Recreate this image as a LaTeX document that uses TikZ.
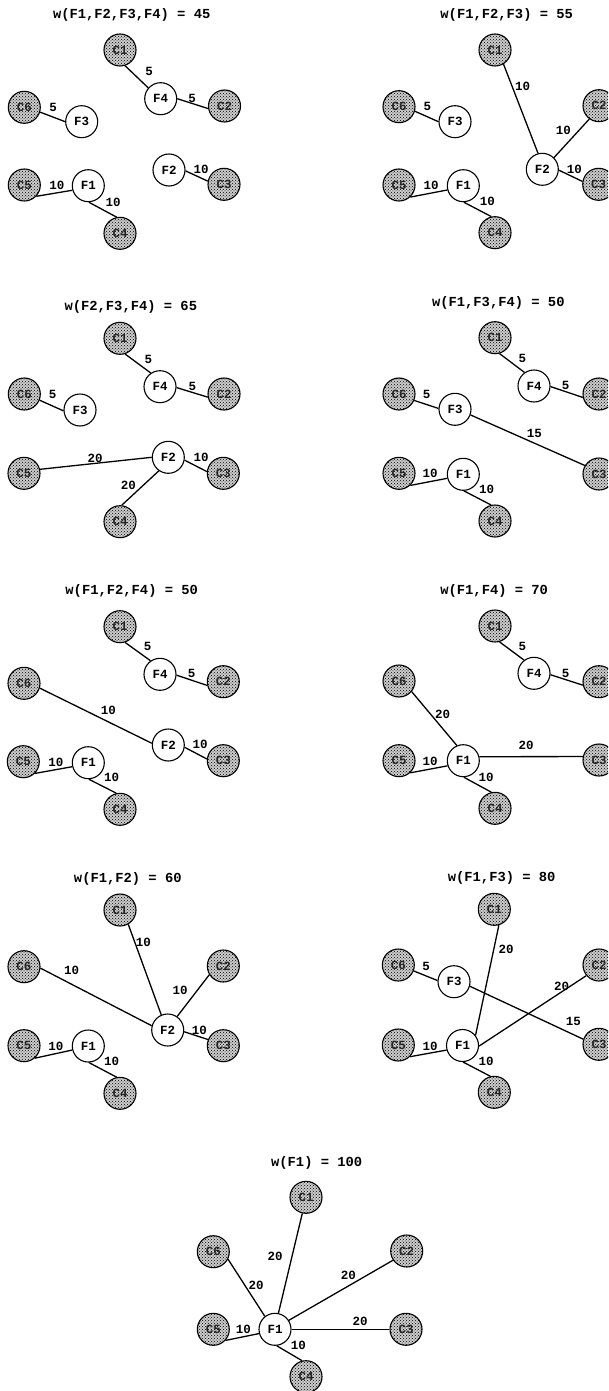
\documentclass[tikz,border=0pt]{standalone}
\usepackage{fontspec}
\setmonofont{Liberation Mono}
\usetikzlibrary{patterns}
\newcommand{\ttl}{\ttfamily\bfseries\fontsize{13.8}{16}\selectfont}
\newcommand{\lblf}{\ttfamily\bfseries\fontsize{12.5}{14}\selectfont}
\tikzset{
  fnode/.style={circle, draw, line width=1.1pt, fill=white, minimum size=32pt, inner sep=0pt, font=\lblf},
  cnode/.style={circle, draw, line width=1.1pt, minimum size=32pt, inner sep=0pt,
    preaction={fill=gray!40}, pattern=crosshatch dots, pattern color=black, font=\lblf, text=black!85},
  edge/.style={line width=1.3pt},
  wlbl/.style={font=\lblf, inner sep=0pt},
  ptitle/.style={font=\ttl, inner sep=0pt}
}
\begin{document}
\begin{tikzpicture}[x=1pt,y=-1pt]
\clip (0,0) rectangle (608,1391);
\fill[white] (0,0) rectangle (608,1391);
% ---------------- panel a
\node[ptitle] (aT) at (131.7,15) {w(F1,F2,F3,F4) = 45};
\node[cnode] (aC1) at (120,50) {C1};
\node[fnode] (aF4) at (160.7,98.7) {F4};
\node[cnode] (aC2) at (224.5,106) {C2};
\node[cnode] (aC6) at (24.3,107.3) {C6};
\node[fnode] (aF3) at (81.7,121.7) {F3};
\node[fnode] (aF2) at (169,170) {F2};
\node[cnode] (aC3) at (224,184.3) {C3};
\node[cnode] (aC5) at (24.3,185) {C5};
\node[fnode] (aF1) at (88.3,185.7) {F1};
\node[cnode] (aC4) at (120,233.3) {C4};
\draw[edge] (aC1.-72) -- (aF4.139);
\draw[edge] (aF4.0) -- (aC2.189);
\draw[edge] (aC6.-17) -- (aF3.180);
\draw[edge] (aF2.-3) -- (aC3.169);
\draw[edge] (aC5.-43) -- (aF1.196);
\draw[edge] (aF1.-88) -- (aC4.102);
\node[wlbl] (aL1) at (149,71) {5};
\node[wlbl] (aL2) at (192,98) {5};
\node[wlbl] (aL3) at (53,107) {5};
\node[wlbl] (aL4) at (201,169) {10};
\node[wlbl] (aL5) at (57,185) {10};
\node[wlbl] (aL6) at (113,202) {10};
% ---------------- panel b
\node[ptitle] (bT) at (506.7,15) {w(F1,F2,F3) = 55};
\node[cnode] (bC1) at (495,50) {C1};
\node[cnode] (bC6) at (399,106.7) {C6};
\node[fnode] (bF3) at (455,121.7) {F3};
\node[cnode] (bC2) at (599,105.7) {C2};
\node[fnode] (bF2) at (542.3,169.3) {F2};
\node[cnode] (bC3) at (598.7,184.3) {C3};
\node[cnode] (bC5) at (399,185) {C5};
\node[fnode] (bF1) at (463.3,185.7) {F1};
\node[cnode] (bC4) at (495,232.7) {C4};
\draw[edge] (bC1.-59) -- (bF2.105);
\draw[edge] (bF2.45) -- (bC2.234);
\draw[edge] (bF2.-3) -- (bC3.170);
\draw[edge] (bC6.-16) -- (bF3.180);
\draw[edge] (bC5.-47) -- (bF1.195);
\draw[edge] (bF1.-88) -- (bC4.103);
\node[wlbl] (bL1) at (522.7,86) {10};
\node[wlbl] (bL2) at (563.3,130) {10};
\node[wlbl] (bL3) at (574.3,169.3) {10};
\node[wlbl] (bL4) at (427.3,106) {5};
\node[wlbl] (bL5) at (431,185) {10};
\node[wlbl] (bL6) at (487.3,201) {10};
% ---------------- panel c
\node[ptitle] (cT) at (130.8,306.7) {w(F2,F3,F4) = 65};
\node[cnode] (cC1) at (120,338.3) {C1};
\node[fnode] (cF4) at (160,386.7) {F4};
\node[cnode] (cC2) at (224,394) {C2};
\node[cnode] (cC6) at (24.3,394) {C6};
\node[fnode] (cF3) at (80,410) {F3};
\node[fnode] (cF2) at (168.3,457.3) {F2};
\node[cnode] (cC3) at (223.3,473.3) {C3};
\node[cnode] (cC5) at (24,473.3) {C5};
\node[cnode] (cC4) at (120,521.7) {C4};
\draw[edge] (cC1.-72) -- (cF4.124);
\draw[edge] (cF4.-3) -- (cC2.191);
\draw[edge] (cC6.-22) -- (cF3.183);
\draw[edge] (cC5.14) -- (cF2.180);
\draw[edge] (cF2.-10) -- (cC3.174);
\draw[edge] (cF2.235) -- (cC4.84);
\node[wlbl] (cL1) at (148.3,359) {5};
\node[wlbl] (cL2) at (192.3,386) {5};
\node[wlbl] (cL3) at (52.7,394) {5};
\node[wlbl] (cL4) at (95,458.3) {20};
\node[wlbl] (cL5) at (201,457.3) {10};
\node[wlbl] (cL6) at (128.3,485) {20};
% ---------------- panel d
\node[ptitle] (dT) at (498.3,303.3) {w(F1,F3,F4) = 50};
\node[cnode] (dC1) at (495,337.7) {C1};
\node[fnode] (dF4) at (534,386) {F4};
\node[cnode] (dC2) at (599,394) {C2};
\node[cnode] (dC6) at (399,394) {C6};
\node[fnode] (dF3) at (455,409.3) {F3};
\node[cnode] (dC3) at (599,474) {C3};
\node[cnode] (dC5) at (399,473.3) {C5};
\node[fnode] (dF1) at (463.3,474.3) {F1};
\node[cnode] (dC4) at (495,521) {C4};
\draw[edge] (dC1.-74) -- (dF4.125);
\draw[edge] (dF4.-2) -- (dC2.192);
\draw[edge] (dC6.-23) -- (dF3.177);
\draw[edge] (dF3.-20) -- (dC3.149);
\draw[edge] (dC5.-47) -- (dF1.194);
\draw[edge] (dF1.-88) -- (dC4.104);
\node[wlbl] (dL1) at (522.3,358.3) {5};
\node[wlbl] (dL2) at (565.7,385) {5};
\node[wlbl] (dL3) at (426.7,394) {5};
\node[wlbl] (dL4) at (534.3,433.3) {15};
\node[wlbl] (dL5) at (430,473.3) {10};
\node[wlbl] (dL6) at (486.7,489.3) {10};
% ---------------- panel e
\node[ptitle] (eT) at (131.7,590.7) {w(F1,F2,F4) = 50};
\node[cnode] (eC1) at (120,626.7) {C1};
\node[fnode] (eF4) at (160,674.3) {F4};
\node[cnode] (eC2) at (223.3,681.7) {C2};
\node[cnode] (eC6) at (24,683.3) {C6};
\node[fnode] (eF2) at (168.3,745) {F2};
\node[cnode] (eC3) at (223.3,760.7) {C3};
\node[cnode] (eC5) at (23.3,761.7) {C5};
\node[fnode] (eF1) at (88.3,762.7) {F1};
\node[cnode] (eC4) at (120,809.3) {C4};
\draw[edge] (eC1.-72) -- (eF4.125);
\draw[edge] (eF4.-3) -- (eC2.193);
\draw[edge] (eC6.-17) -- (eF2.174);
\draw[edge] (eF2.-8) -- (eC3.174);
\draw[edge] (eC5.-45) -- (eF1.194);
\draw[edge] (eF1.-88) -- (eC4.103);
\node[wlbl] (eL1) at (147.7,646) {5};
\node[wlbl] (eL2) at (191.7,673.3) {5};
\node[wlbl] (eL3) at (108.3,710) {10};
\node[wlbl] (eL4) at (200,744.3) {10};
\node[wlbl] (eL5) at (56,762.7) {10};
\node[wlbl] (eL6) at (111.7,777.7) {10};
% ---------------- panel f
\node[ptitle] (fT) at (494.2,590.7) {w(F1,F4) = 70};
\node[cnode] (fC1) at (495,626) {C1};
\node[fnode] (fF4) at (534,673.3) {F4};
\node[cnode] (fC2) at (599,681.7) {C2};
\node[cnode] (fC6) at (399,681) {C6};
\node[fnode] (fF1) at (463.3,760.7) {F1};
\node[cnode] (fC5) at (399,760.7) {C5};
\node[cnode] (fC3) at (599,760) {C3};
\node[cnode] (fC4) at (495,808.3) {C4};
\draw[edge] (fC1.-74) -- (fF4.127);
\draw[edge] (fF4.-5) -- (fC2.192);
\draw[edge] (fC6.-40) -- (fF1.113);
\draw[edge] (fF1.14) -- (fC3.168);
\draw[edge] (fC5.-47) -- (fF1.198);
\draw[edge] (fF1.-88) -- (fC4.103);
\node[wlbl] (fL1) at (522.3,646) {5};
\node[wlbl] (fL2) at (565.7,673.3) {5};
\node[wlbl] (fL3) at (442.7,714) {20};
\node[wlbl] (fL4) at (526,745) {20};
\node[wlbl] (fL5) at (430,761.7) {10};
\node[wlbl] (fL6) at (486,777.3) {10};
% ---------------- panel g
\node[ptitle] (gT) at (127.8,879) {w(F1,F2) = 60};
\node[cnode] (gC1) at (120,910) {C1};
\node[cnode] (gC6) at (24,966.7) {C6};
\node[cnode] (gC2) at (223.3,966) {C2};
\node[fnode] (gF2) at (167.7,1030) {F2};
\node[cnode] (gC3) at (223.3,1045.7) {C3};
\node[cnode] (gC5) at (24,1045.7) {C5};
\node[fnode] (gF1) at (88.3,1046) {F1};
\node[cnode] (gC4) at (120,1093.3) {C4};
\draw[edge] (gC1.-60) -- (gF2.113);
\draw[edge] (gC6.-5) -- (gF2.165);
\draw[edge] (gF2.55) -- (gC2.212);
\draw[edge] (gF2.-6) -- (gC3.158);
\draw[edge] (gC5.-49) -- (gF1.194);
\draw[edge] (gF1.-88) -- (gC4.102);
\node[wlbl] (gL1) at (143.3,942.7) {10};
\node[wlbl] (gL2) at (71.7,970) {10};
\node[wlbl] (gL3) at (180,990.7) {10};
\node[wlbl] (gL4) at (199.3,1030) {10};
\node[wlbl] (gL5) at (56,1046) {10};
\node[wlbl] (gL6) at (111.7,1061.7) {10};
% ---------------- panel h
\node[ptitle] (hT) at (501.7,878.3) {w(F1,F3) = 80};
\node[cnode] (hC1) at (494.3,909.3) {C1};
\node[cnode] (hC6) at (398.3,965) {C6};
\node[fnode] (hF3) at (454,981.7) {F3};
\node[cnode] (hC2) at (599,965) {C2};
\node[fnode] (hF1) at (462.5,1045.5) {F1};
\node[cnode] (hC5) at (398.3,1045) {C5};
\node[cnode] (hC3) at (599,1044.3) {C3};
\node[cnode] (hC4) at (494.3,1092.3) {C4};
\draw[edge] (hC1.-74) -- (hF1.38);
\draw[edge] (hC6.-21) -- (hF3.176);
\draw[edge] (hF3.-16) -- (hC3.162);
\draw[edge] (hF1.-2) -- (hC2.220);
\draw[edge] (hC5.-45) -- (hF1.196);
\draw[edge] (hF1.-88) -- (hC4.104);
\node[wlbl] (hL1) at (506,949.3) {20};
\node[wlbl] (hL2) at (426,966) {5};
\node[wlbl] (hL3) at (561.7,986) {20};
\node[wlbl] (hL4) at (573.3,1021.7) {15};
\node[wlbl] (hL5) at (430,1046) {10};
\node[wlbl] (hL6) at (486,1061.7) {10};
% ---------------- panel i
\node[ptitle] (iT) at (316.7,1163.3) {w(F1) = 100};
\node[cnode] (iC1) at (306,1197.3) {C1};
\node[cnode] (iC6) at (213.3,1251.7) {C6};
\node[cnode] (iC2) at (406.7,1251) {C2};
\node[cnode] (iC5) at (213.3,1329.3) {C5};
\node[fnode] (iF1) at (275,1329.3) {F1};
\node[cnode] (iC3) at (406,1329.3) {C3};
\node[cnode] (iC4) at (306,1376.7) {C4};
\draw[edge] (iC1.-103) -- (iF1.78);
\draw[edge] (iC6.-27) -- (iF1.128);
\draw[edge] (iF1.33) -- (iC2.214);
\draw[edge] (iF1.0) -- (iC3.180);
\draw[edge] (iC5.-42) -- (iF1.195);
\draw[edge] (iF1.-84) -- (iC4.104);
\node[wlbl] (iL1) at (275,1256) {20};
\node[wlbl] (iL2) at (256,1285.7) {20};
\node[wlbl] (iL3) at (348.3,1275) {20};
\node[wlbl] (iL4) at (360,1321) {20};
\node[wlbl] (iL5) at (243.3,1329.3) {10};
\node[wlbl] (iL6) at (298.3,1345) {10};
\end{tikzpicture}
\end{document}
